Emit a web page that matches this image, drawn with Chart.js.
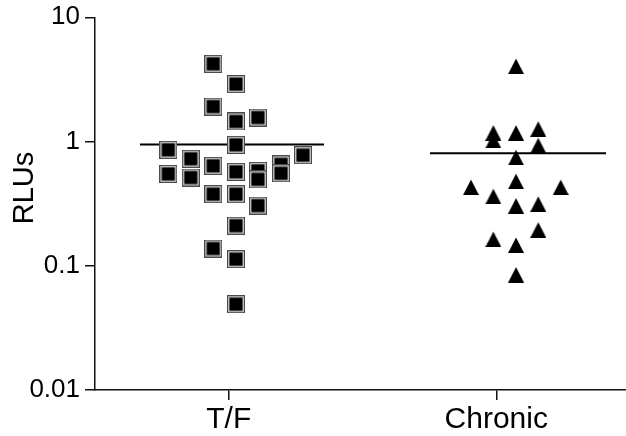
<!DOCTYPE html>
<html>
<head>
<meta charset="utf-8">
<script src="https://cdn.jsdelivr.net/npm/chart.js@4"></script>
<style>
  html, body { margin: 0; padding: 0; background: #fff; }
  canvas { display: block; }
</style>
</head>
<body>
<canvas id="mychart" width="626" height="436"></canvas>
<script>
// groups and where they sit on the x axis
const categories = ['T/F', 'Chronic'];
const categoryPos = [1, 3];

// y axis ticks (log scale)
const yTicks = [0.01, 0.1, 1, 10];

// T/F group: jittered x position and RLU value for each sample
const tfX = [0.884, 1.054, 0.884, 1.054, 1.218, 0.548, 1.054, 0.716, 1.555, 0.548, 0.716, 0.884,
             1.054, 1.218, 1.218, 1.391, 1.391, 0.884, 1.054, 1.218, 1.054, 0.884, 1.054, 1.054];
const tfY = [4.22, 2.90, 1.91, 1.45, 1.56, 0.857, 0.941, 0.726, 0.777, 0.549, 0.513, 0.637,
             0.570, 0.581, 0.496, 0.655, 0.555, 0.377, 0.377, 0.305, 0.210, 0.1376, 0.113, 0.0491];

// Chronic group
const chronicX = [3.148, 2.978, 2.978, 3.148, 3.314, 3.314, 3.148, 2.811, 3.148, 3.482, 2.978,
                  3.148, 3.314, 3.314, 2.978, 3.148, 3.148];
const chronicY = [4.05, 1.179, 1.022, 1.179, 1.266, 0.932, 0.746, 0.430, 0.480, 0.430, 0.363,
                  0.305, 0.315, 0.195, 0.164, 0.147, 0.0849];

// group means and the span of the mean bar
const means = [0.946, 0.806];
const meanSpan = [[0.336, 1.712], [2.505, 3.821]];

const FONT = '"Liberation Sans", Arial, Helvetica, sans-serif';

// black square with a light inner ring
function squareMarker() {
  const c = document.createElement('canvas');
  c.width = 18; c.height = 18;
  const g = c.getContext('2d');
  g.fillStyle = '#4a4a4a';
  g.fillRect(0, 0, 18, 18);
  g.fillStyle = '#dcdcdc';
  g.fillRect(1.2, 1.2, 15.6, 15.6);
  g.fillStyle = '#000';
  g.fillRect(2.4, 2.4, 13.2, 13.2);
  return c;
}

function triangleMarker() {
  const c = document.createElement('canvas');
  c.width = 16; c.height = 16;
  const g = c.getContext('2d');
  g.fillStyle = '#000';
  g.beginPath();
  g.moveTo(0, 16);
  g.lineTo(8, 0.5);
  g.lineTo(16, 16);
  g.closePath();
  g.fill();
  return c;
}

function zip(xs, ys) {
  return xs.map((x, i) => ({ x: x, y: ys[i] }));
}

// keep tick labels from pushing the plot area in
function noPad(scale) {
  scale.paddingLeft = 0; scale.paddingRight = 0; scale.paddingTop = 0; scale.paddingBottom = 0;
}

// y title drawn by hand so it can sit a bit above the axis middle
const yTitle = {
  id: 'yTitle',
  afterDraw(chart) {
    const c = chart.ctx;
    c.save();
    c.translate(25, 188);
    c.rotate(-Math.PI / 2);
    c.font = '29px ' + FONT;
    c.fillStyle = '#000';
    c.textAlign = 'center';
    c.textBaseline = 'middle';
    c.fillText('RLUs', 0, 0);
    c.restore();
  }
};

const meanSets = means.map((m, i) => ({
  type: 'line',
  data: [{ x: meanSpan[i][0], y: m }, { x: meanSpan[i][1], y: m }],
  borderColor: '#000',
  borderWidth: 2,
  pointRadius: 0,
  order: 2
}));

const ctx = document.getElementById('mychart').getContext('2d');
const chart = new Chart(ctx, {
  type: 'scatter',
  data: {
    datasets: [
      { data: zip(tfX, tfY), pointStyle: squareMarker(), order: 1 },
      { data: zip(chronicX, chronicY), pointStyle: triangleMarker(), order: 1 },
      ...meanSets
    ]
  },
  plugins: [yTitle],
  options: {
    responsive: false,
    animation: false,
    layout: { autoPadding: false, padding: { top: 17.3, right: 0, bottom: 0, left: 0 } },
    plugins: { legend: { display: false }, tooltip: { enabled: false } },
    scales: {
      x: {
        type: 'linear',
        min: 0,
        max: 3.97,
        afterBuildTicks: (scale) => { scale.ticks = categoryPos.map(v => ({ value: v })); },
        afterFit: (scale) => { scale.height = 46; noPad(scale); },
        ticks: {
          color: '#000',
          padding: 2,
          font: { family: FONT, size: 30 },
          callback: (v) => categories[categoryPos.indexOf(v)]
        },
        grid: { drawOnChartArea: false, tickLength: 10, color: '#111', lineWidth: 1.5 },
        border: { color: '#111', width: 1.5 }
      },
      y: {
        type: 'logarithmic',
        min: 0.01,
        max: 10,
        afterBuildTicks: (scale) => { scale.ticks = yTicks.map(v => ({ value: v })); },
        afterFit: (scale) => { scale.width = 95; noPad(scale); },
        ticks: {
          color: '#000',
          padding: 5,
          font: { family: FONT, size: 26 },
          callback: (v) => String(v)
        },
        grid: { drawOnChartArea: false, tickLength: 10, color: '#111', lineWidth: 1.5 },
        border: { color: '#111', width: 1.5 }
      }
    }
  }
});
</script>
</body>
</html>
